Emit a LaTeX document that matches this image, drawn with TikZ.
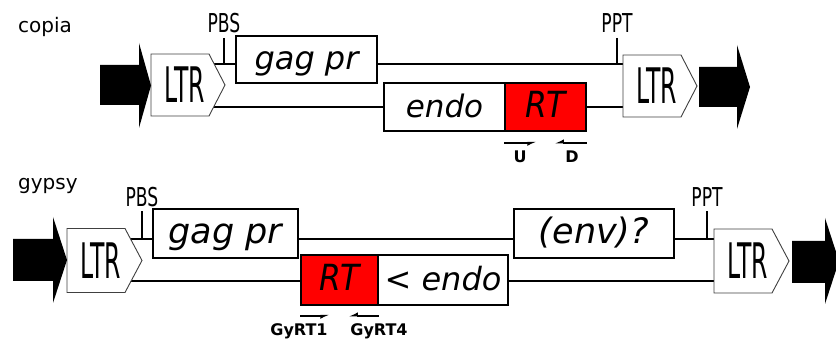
\documentclass[tikz,border=0pt]{standalone}
\usepackage{fontspec}
\setmainfont{DejaVu Sans}
\newfontfamily\ltrfont[FakeStretch=0.48]{DejaVu Sans}
\newfontfamily\tagfont[FakeStretch=0.66]{DejaVu Sans}
\newfontfamily\rtfont[FakeStretch=0.87]{DejaVu Sans}
\usetikzlibrary{arrows.meta,calc}
\begin{document}
\begin{tikzpicture}[x=1pt,y=-1pt,
  box/.style={draw=black,line width=1.3pt,fill=white,inner sep=0pt,text height=24pt,text depth=3pt},
  conn/.style={line width=2pt},
  ltrshape/.style={draw=black!75,line width=0.9pt,fill=white,line join=miter},
  ltrtxt/.style={inner sep=0pt,text height=35.7pt,text depth=0pt,font=\ltrfont\fontsize{49pt}{49pt}\selectfont},
  tagtxt/.style={inner sep=0pt,anchor=base,font=\tagfont\fontsize{26pt}{26pt}\selectfont},
  tick/.style={line width=2.5pt},
  famtxt/.style={inner sep=0pt,anchor=base west,font=\fontsize{20pt}{20pt}\selectfont},
  prmtxt/.style={inner sep=0pt,anchor=base,font=\bfseries\fontsize{16pt}{16pt}\selectfont},
  primer/.style={line width=1.8pt,-{Latex[right,length=7pt,width=7pt]}},
  blk/.style={fill=black}
]
\useasboundingbox (0,0) rectangle (836,339);
\clip (0,0) rectangle (836,339);

% ---------- copia ----------
\node[famtxt] (copiaT) at (18,33) {copia};
\node[box,minimum width=141pt,minimum height=47pt,font=\itshape\fontsize{32pt}{32pt}\selectfont] (gagC) at (306.5,59.5) {gag pr};
\node[box,minimum width=121pt,minimum height=48pt,font=\itshape\fontsize{31pt}{31pt}\selectfont] (endoC) at (444.5,107) {endo};
\node[box,fill=red,minimum width=81pt,minimum height=48pt,font=\rtfont\itshape\fontsize{36pt}{36pt}\selectfont] (rtC) at (545.5,107) {RT};
\coordinate (cLc) at (185,85);
\coordinate (cRc) at (657,86);
\coordinate (cUp) at ([yshift=-4.5pt]gagC.west);
\coordinate (cUpR) at ([yshift=-4.5pt]gagC.east);
\draw[conn] (cLc |- cUp) -- (cUp);
\draw[conn] (cUpR) -- (cUpR -| cRc);
\draw[conn] (endoC.west -| cLc) -- (endoC.west);
\draw[conn] (rtC.east) -- (rtC.east -| cRc);
\node[tagtxt] (pbsC) at (224,33) {PBS};
\node[tagtxt] (pptC) at (617,33) {PPT};
\draw[tick] ([yshift=-5pt]pbsC.base) -- (pbsC.base |- cUp);
\draw[tick] ([yshift=-5pt]pptC.base) -- (pptC.base |- cUp);
\draw[ltrshape] ($(cLc)+(-34,-31)$) -- ++(58,0) -- ++(16,31) -- ++(-16,31) -- ++(-58,0) -- cycle;
\draw[ltrshape] ($(cRc)+(-34,-31)$) -- ++(58,0) -- ++(16,31) -- ++(-16,31) -- ++(-58,0) -- cycle;
\node[ltrtxt] (cL) at (cLc) {LTR};
\node[ltrtxt] (cR) at (cRc) {LTR};
\fill[blk] (100,65) -- (139,65) -- (139,43) -- (151,85.5) -- (139,128) -- (139,105) -- (100,105) -- cycle;
\fill[blk] (699,67) -- (737,67) -- (737,45) -- (750,87) -- (737,129) -- (737,107) -- (699,107) -- cycle;
\coordinate (uA) at ([yshift=-11pt]rtC.south west);
\coordinate (uB) at ($(uA)+(32,0)$);
\coordinate (dA) at ([yshift=-11pt]rtC.south east);
\coordinate (dB) at ($(dA)+(-32,0)$);
\draw[primer] (uA) -- (uB);
\draw[primer] (dA) -- (dB);
\node[prmtxt] (uT) at (520,163) {U};
\node[prmtxt] (dT) at (572,163) {D};

% ---------- gypsy ----------
\node[famtxt] (gypsyT) at (18,190) {gypsy};
\node[box,minimum width=145pt,minimum height=49pt,font=\itshape\fontsize{35pt}{35pt}\selectfont] (gagG) at (225.5,233.5) {gag pr};
\node[box,minimum width=160pt,minimum height=49pt,font=\itshape\fontsize{35pt}{35pt}\selectfont] (envG) at (594,233.5) {(env)?};
\node[box,fill=red,minimum width=77pt,minimum height=50pt,font=\rtfont\itshape\fontsize{36pt}{36pt}\selectfont] (rtG) at (339.5,280) {RT};
\node[box,minimum width=130pt,minimum height=50pt,font=\itshape\fontsize{32pt}{32pt}\selectfont] (endoG) at (443,280) {< endo};
\coordinate (gLc) at (101,260.5);
\coordinate (gRc) at (748,261);
\coordinate (gUp) at ([yshift=-5.5pt]gagG.west);
\coordinate (gUpR) at ([yshift=-5.5pt]gagG.east);
\coordinate (eUpL) at ([yshift=-5.5pt]envG.west);
\coordinate (eUpR) at ([yshift=-5.5pt]envG.east);
\draw[conn] (gLc |- gUp) -- (gUp);
\draw[conn] (gUpR) -- (eUpL);
\draw[conn] (eUpR) -- (eUpR -| gRc);
\draw[conn] ([yshift=-1pt]rtG.west -| gLc) -- ([yshift=-1pt]rtG.west);
\draw[conn] ([yshift=-1pt]endoG.east) -- ([yshift=-1pt]endoG.east -| gRc);
\node[tagtxt] (pbsG) at (142,206.5) {PBS};
\node[tagtxt] (pptG) at (707,206.5) {PPT};
\draw[tick] ([yshift=-5pt]pbsG.base) -- (pbsG.base |- gUp);
\draw[tick] ([yshift=-5pt]pptG.base) -- (pptG.base |- gUp);
\draw[ltrshape] ($(gLc)+(-34,-32)$) -- ++(58,0) -- ++(17,32) -- ++(-17,32) -- ++(-58,0) -- cycle;
\draw[ltrshape] ($(gRc)+(-34,-32)$) -- ++(58,0) -- ++(17,32) -- ++(-17,32) -- ++(-58,0) -- cycle;
\node[ltrtxt] (gL) at (gLc) {LTR};
\node[ltrtxt] (gR) at (gRc) {LTR};
\fill[blk] (13,239) -- (53,239) -- (53,217) -- (67,260) -- (53,303) -- (53,281) -- (13,281) -- cycle;
\fill[blk] (792,241) -- (825,241) -- (825,218) -- (839,261) -- (825,304) -- (825,283) -- (792,283) -- cycle;
\coordinate (g1A) at ([yshift=-10pt]rtG.south west);
\coordinate (g1B) at ($(g1A)+(29,0)$);
\coordinate (g4A) at ([yshift=-10pt]rtG.south east);
\coordinate (g4B) at ($(g4A)+(-30,0)$);
\draw[primer] (g1A) -- (g1B);
\draw[primer] (g4A) -- (g4B);
\node[prmtxt] (g1T) at (299,335.5) {GyRT1};
\node[prmtxt] (g4T) at (379,335.5) {GyRT4};
\end{tikzpicture}
\end{document}
